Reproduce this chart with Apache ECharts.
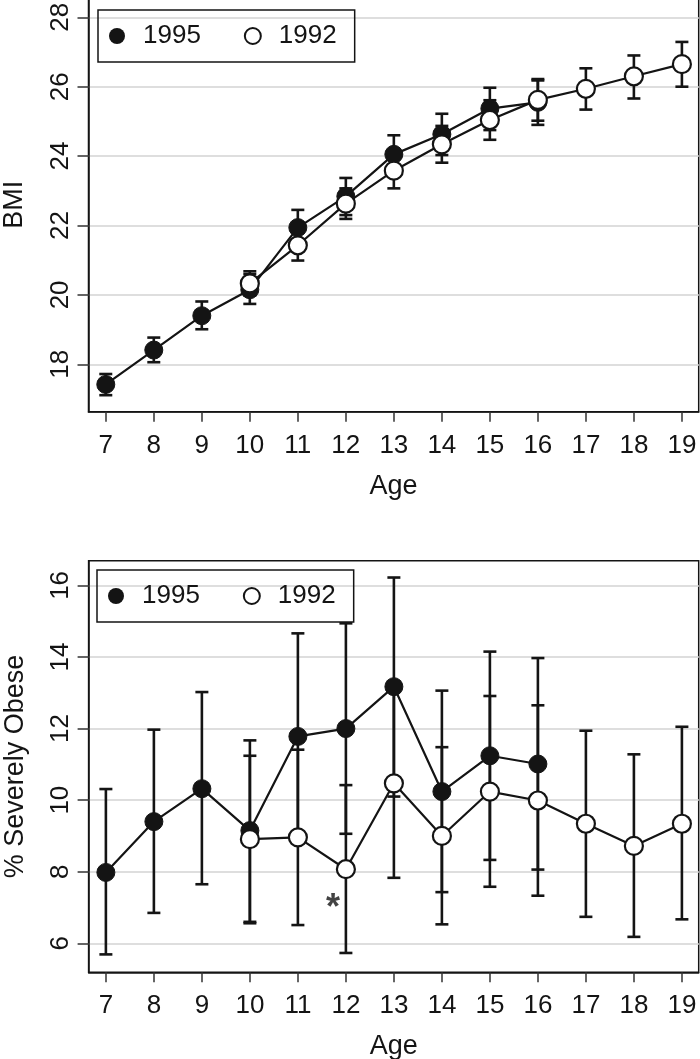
<!DOCTYPE html>
<html>
<head>
<meta charset="utf-8">
<script src="https://cdn.jsdelivr.net/npm/echarts@6/dist/echarts.min.js"></script>
<style>
html,body{margin:0;padding:0;background:#fff;}
#chart{width:700px;height:1059px;}
</style>
</head>
<body>
<div id="chart"></div>
<script>
// ---- Data ----
const ages95 = [7, 8, 9, 10, 11, 12, 13, 14, 15, 16];
const ages92 = [10, 11, 12, 13, 14, 15, 16, 17, 18, 19];
const xTicks = [7, 8, 9, 10, 11, 12, 13, 14, 15, 16, 17, 18, 19];

// BMI panel
const bmi95 = [17.42, 18.41, 19.40, 20.15, 21.94, 22.84, 24.05, 24.63, 25.37, 25.55];
const bmi95Lo = [17.11, 18.06, 19.01, 19.74, 21.44, 22.30, 23.50, 24.03, 24.75, 24.90];
const bmi95Hi = [17.72, 18.77, 19.81, 20.60, 22.45, 23.37, 24.60, 25.22, 25.97, 26.18];
const bmi92 = [20.33, 21.43, 22.63, 23.58, 24.34, 25.04, 25.62, 25.94, 26.30, 26.65];
const bmi92Lo = [19.98, 20.99, 22.19, 23.07, 23.81, 24.47, 25.02, 25.34, 25.66, 26.00];
const bmi92Hi = [20.68, 21.88, 23.07, 24.09, 24.87, 25.61, 26.22, 26.53, 26.90, 27.29];
const bmiTicks = [18, 20, 22, 24, 26, 28];

// % Severely Obese panel
const ob95 = [7.98, 9.40, 10.32, 9.15, 11.78, 12.00, 13.17, 10.24, 11.24, 11.01];
const ob95Lo = [5.69, 6.85, 7.65, 6.60, 8.90, 9.06, 10.10, 7.43, 8.33, 8.06];
const ob95Hi = [10.31, 11.97, 13.02, 11.67, 14.66, 14.94, 16.22, 13.06, 14.15, 13.97];
const ob92 = [8.91, 8.96, 8.07, 10.47, 9.00, 10.24, 9.99, 9.34, 8.72, 9.34];
const ob92Lo = [6.56, 6.51, 5.73, 7.83, 6.53, 7.58, 7.33, 6.74, 6.18, 6.67];
const ob92Hi = [11.24, 11.41, 10.42, 13.10, 11.48, 12.91, 12.65, 11.94, 11.28, 12.05];
const obTicks = [6, 8, 10, 12, 14, 16];
const starPoint = [11.73, 6.95];

// ---- Helpers ----
const FONT = 'Liberation Sans, Arial, sans-serif';
const INK = '#141414';

function zip(xs, ys) { return xs.map((x, i) => [x, ys[i]]); }
function zipErr(xs, lo, hi) { return xs.map((x, i) => [x, lo[i], hi[i]]); }

function errRender(params, api) {
  const x = api.value(0), lo = api.value(1), hi = api.value(2);
  const a = api.coord([x, lo]);
  const b = api.coord([x, hi]);
  const c = 6.5;
  const st = { stroke: INK, lineWidth: 2.6 };
  return {
    type: 'group',
    children: [
      { type: 'line', shape: { x1: a[0], y1: a[1], x2: b[0], y2: b[1] }, style: st },
      { type: 'line', shape: { x1: a[0] - c, y1: a[1], x2: a[0] + c, y2: a[1] }, style: st },
      { type: 'line', shape: { x1: b[0] - c, y1: b[1], x2: b[0] + c, y2: b[1] }, style: st }
    ]
  };
}

function xAxisDef(gi) {
  return {
    type: 'value', gridIndex: gi, min: 6.64, max: 19.35,
    name: 'Age', nameLocation: 'middle', nameGap: 61,
    nameTextStyle: { fontFamily: FONT, fontSize: 27, color: INK },
    axisLine: { show: true, lineStyle: { color: INK, width: 1.5 } },
    axisTick: { show: true, length: 10, customValues: xTicks, lineStyle: { color: '#333', width: 1.5 } },
    axisLabel: { customValues: xTicks, margin: 21, fontFamily: FONT, fontSize: 26, color: INK },
    splitLine: { show: false }
  };
}
function yAxisDef(gi, min, max, ticks, name) {
  return {
    type: 'value', gridIndex: gi, min: min, max: max,
    name: name, nameLocation: 'middle', nameGap: 60,
    nameTextStyle: { fontFamily: FONT, fontSize: 27, color: INK },
    axisLine: { show: true, lineStyle: { color: INK, width: 1.5 } },
    axisTick: { show: true, length: 11, customValues: ticks, lineStyle: { color: '#333', width: 1.5 } },
    axisLabel: { customValues: ticks, rotate: 90, margin: 15, fontFamily: FONT, fontSize: 26, color: INK },
    splitLine: { show: true, lineStyle: { color: '#dedede', width: 2 } }
  };
}
function legendDef(left, top) {
  return {
    left: left, top: top, orient: 'horizontal',
    borderColor: INK, borderWidth: 1.5, borderRadius: 0,
    padding: [13, 18, 13, 11],
    itemWidth: 16, itemHeight: 16, itemGap: 43,
    icon: 'circle',
    textStyle: { fontFamily: FONT, fontSize: 26, color: INK, padding: [0, 0, 0, 13] },
    selectedMode: false,
    data: [
      { name: '1995', itemStyle: { color: INK, borderWidth: 0 } },
      { name: '1992', itemStyle: { color: '#fff', borderColor: INK, borderWidth: 2 } }
    ]
  };
}
function lineSeries(name, gi, data, filled) {
  return {
    name: name, type: 'line', xAxisIndex: gi, yAxisIndex: gi,
    data: data, symbol: 'circle', symbolSize: 18, showAllSymbol: true,
    z: filled ? 3 : 4,
    lineStyle: { color: INK, width: 2.2 },
    itemStyle: filled ? { color: INK, borderColor: INK, borderWidth: 1 }
                      : { color: '#fff', borderColor: INK, borderWidth: 2.2 },
    emphasis: { disabled: true },
    animation: false
  };
}
function errSeries(gi, data) {
  return {
    type: 'custom', xAxisIndex: gi, yAxisIndex: gi, data: data,
    renderItem: errRender, z: 2, silent: true, animation: false
  };
}

const chart = echarts.init(document.getElementById('chart'), null, { renderer: 'canvas' });
chart.setOption({
  animation: false,
  backgroundColor: '#fff',
  grid: [
    { left: 88.5, right: 1.3, top: -2, bottom: 647.3, show: true, borderColor: INK, borderWidth: 1.5, backgroundColor: 'transparent', containLabel: false, outerBoundsMode: 'none' },
    { left: 88.6, right: 1.3, top: 560.7, bottom: 86.7, show: true, borderColor: INK, borderWidth: 1.5, backgroundColor: 'transparent', containLabel: false, outerBoundsMode: 'none' }
  ],
  legend: [legendDef(98, 10), legendDef(97, 570)],
  xAxis: [xAxisDef(0), xAxisDef(1)],
  yAxis: [
    yAxisDef(0, 16.634, 28.556, bmiTicks, 'BMI'),
    yAxisDef(1, 5.19, 16.69, obTicks, '% Severely Obese')
  ],
  series: [
    errSeries(0, zipErr(ages95, bmi95Lo, bmi95Hi)),
    errSeries(0, zipErr(ages92, bmi92Lo, bmi92Hi)),
    lineSeries('1995', 0, zip(ages95, bmi95), true),
    lineSeries('1992', 0, zip(ages92, bmi92), false),
    errSeries(1, zipErr(ages95, ob95Lo, ob95Hi)),
    errSeries(1, zipErr(ages92, ob92Lo, ob92Hi)),
    lineSeries('1995', 1, zip(ages95, ob95), true),
    lineSeries('1992', 1, zip(ages92, ob92), false),
    {
      type: 'scatter', xAxisIndex: 1, yAxisIndex: 1, data: [starPoint],
      symbolSize: 0, silent: true, z: 5,
      label: { show: true, position: 'inside', formatter: '*', fontFamily: FONT, fontSize: 36, fontWeight: 'bold', color: INK }
    }
  ]
});
</script>
</body>
</html>
